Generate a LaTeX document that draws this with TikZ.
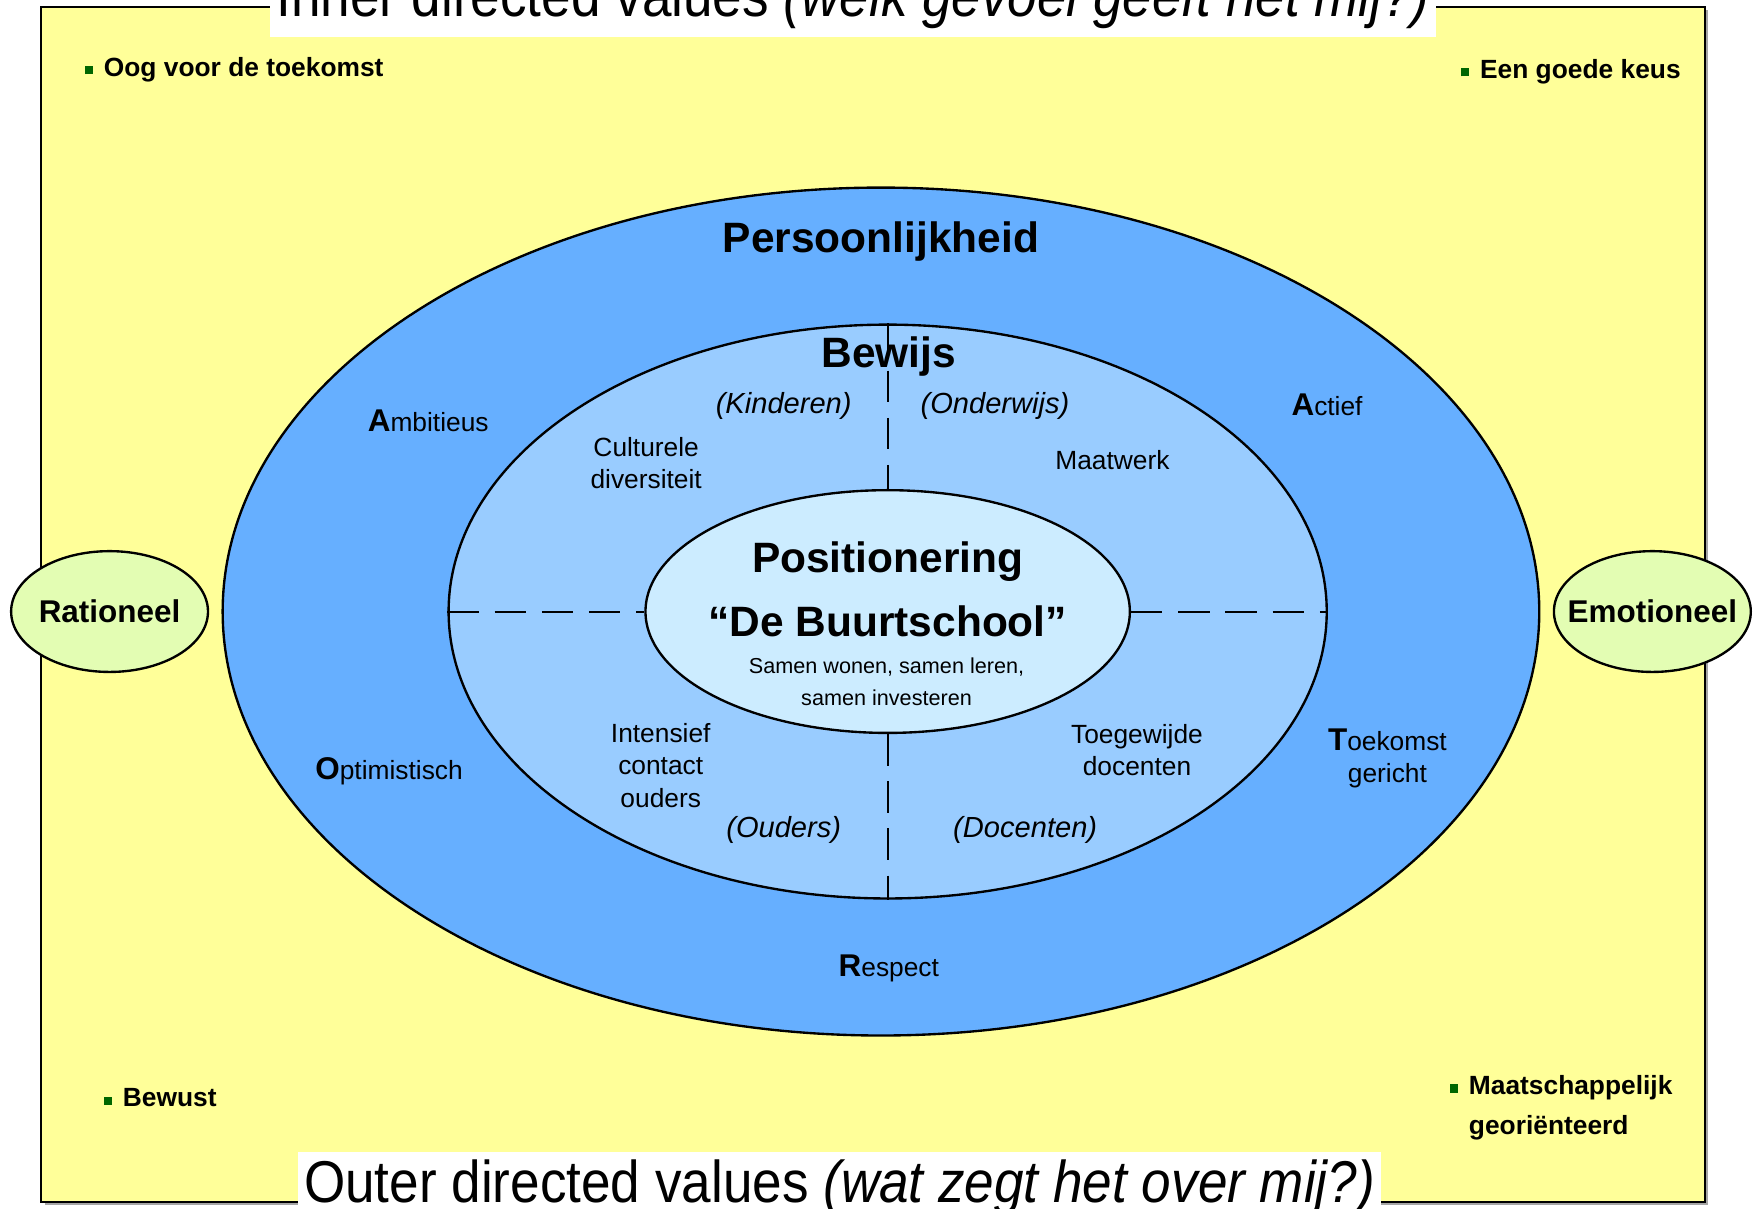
\documentclass[tikz,border=0pt]{standalone}
\usepackage{fontspec}
\setmainfont{Liberation Sans}
\newfontfamily\titlefont[FakeStretch=0.9]{Liberation Sans}
\usetikzlibrary{shapes.geometric}

\definecolor{yellowbg}{HTML}{FFFF99}
\definecolor{outerblue}{HTML}{66AFFF}
\definecolor{midblue}{HTML}{99CCFF}
\definecolor{coreblue}{HTML}{CCECFF}
\definecolor{sidegreen}{HTML}{E3FDB3}
\definecolor{bulletgreen}{HTML}{006600}

\newcommand{\bigletter}[1]{{\fontsize{8}{9}\selectfont\bfseries #1}}
\newcommand{\sqbullet}{\textcolor{bulletgreen}{\raisebox{0.5pt}{\rule{2.1pt}{2.1pt}}}\hspace{2.8pt}}

\begin{document}
\begin{tikzpicture}[x=0.01cm, y=-0.01cm,
  ring/.style={ellipse, draw, line width=0.6pt, inner sep=0pt},
  heading/.style={font=\fontsize{10.8}{13}\selectfont\bfseries, anchor=base},
  itemtext/.style={font=\fontsize{6.7}{8.25}\selectfont, align=center, anchor=base},
  quarter/.style={font=\fontsize{7.4}{9}\selectfont\itshape, anchor=base},
  cornertext/.style={font=\fontsize{6.7}{10.2}\selectfont\bfseries, align=left, anchor=base west, inner sep=0pt},
  sidering/.style={ring, inner sep=-6pt, fill=sidegreen, minimum width=1.76cm, minimum height=1.08cm, font=\fontsize{8}{10}\selectfont\bfseries},
  valuestitle/.style={fill=white, inner xsep=1.5pt, inner ysep=2pt, anchor=base, font=\titlefont\fontsize{15}{18}\selectfont},
  divider/.style={line width=0.5pt, dash pattern=on 8pt off 4pt}
]
\useasboundingbox (0,0) rectangle (1568,1081);

%Frame
\fill[gray!70] (40,9) rectangle (1528,1078);
\draw[fill=yellowbg, line width=0.5pt] (37,6) rectangle (1525,1075);

%Titles
\node[valuestitle] (innervalues) at (763,15) {Inner directed values \textit{(welk gevoel geeft het mij?)}};
\node[valuestitle] (outervalues) at (751,1076) {Outer directed values \textit{(wat zegt het over mij?)}};

%Rings
\node[ring, fill=outerblue, minimum width=11.77cm, minimum height=7.58cm] (outer) at (788,547) {};
\node[ring, fill=midblue, minimum width=7.85cm, minimum height=5.13cm] (middle) at (794,547) {};
\node[ring, fill=coreblue, minimum width=4.33cm, minimum height=2.17cm] (core) at (794,547) {};

\node[sidering] (rationeel) at (98,547) {Rationeel};
\node[sidering] (emotioneel) at (1478,547) {Emotioneel};

%Lines
\draw[divider] (middle.west) -- (core.west);
\draw[divider] (core.east) -- (middle.east);
\draw[divider] (middle.north) -- (core.north);
\draw[divider] (core.south) -- (middle.south);

%Nodes
\node[heading] (persoonlijkheid) at (788,226) {Persoonlijkheid};
\node[heading] (bewijs) at (795,329) {Bewijs};
\node[heading] (positionering) at (794,512) {Positionering};
\node[heading] (buurtschool) at (794,569) {“De Buurtschool”};
\node[itemtext, font=\fontsize{5.5}{8.25}\selectfont] (samen) at (793,631) {Samen wonen, samen leren,\\samen investeren};

\node[quarter] (kinderen) at (701,370) {(Kinderen)};
\node[quarter] (onderwijs) at (890,370) {(Onderwijs)};
\node[quarter] (ouders) at (701,749) {(Ouders)};
\node[quarter] (docenten) at (917,749) {(Docenten)};

\node[itemtext] (culturele) at (578,437) {Culturele\\diversiteit};
\node[itemtext] (maatwerk) at (995,420) {Maatwerk};
\node[itemtext] (intensief) at (591,722) {Intensief\\contact\\ouders};
\node[itemtext] (toegewijde) at (1017,694) {Toegewijde\\docenten};

\node[itemtext] (ambitieus) at (383,386) {\bigletter{A}mbitieus};
\node[itemtext] (actief) at (1187,372) {\bigletter{A}ctief};
\node[itemtext] (optimistisch) at (348,697) {\bigletter{O}ptimistisch};
\node[itemtext] (toekomst) at (1241,700) {\bigletter{T}oekomst\\gericht};
\node[itemtext] (respect) at (795,873) {\bigletter{R}espect};

\node[cornertext] (oog) at (75,68) {\sqbullet Oog voor de toekomst};
\node[cornertext] (keus) at (1306,70) {\sqbullet Een goede keus};
\node[cornertext] (bewust) at (92,990) {\sqbullet Bewust};
\node[cornertext] (maatschappelijk) at (1296,1015) {\sqbullet Maatschappelijk\\\phantom{\sqbullet}georiënteerd};
\end{tikzpicture}
\end{document}
